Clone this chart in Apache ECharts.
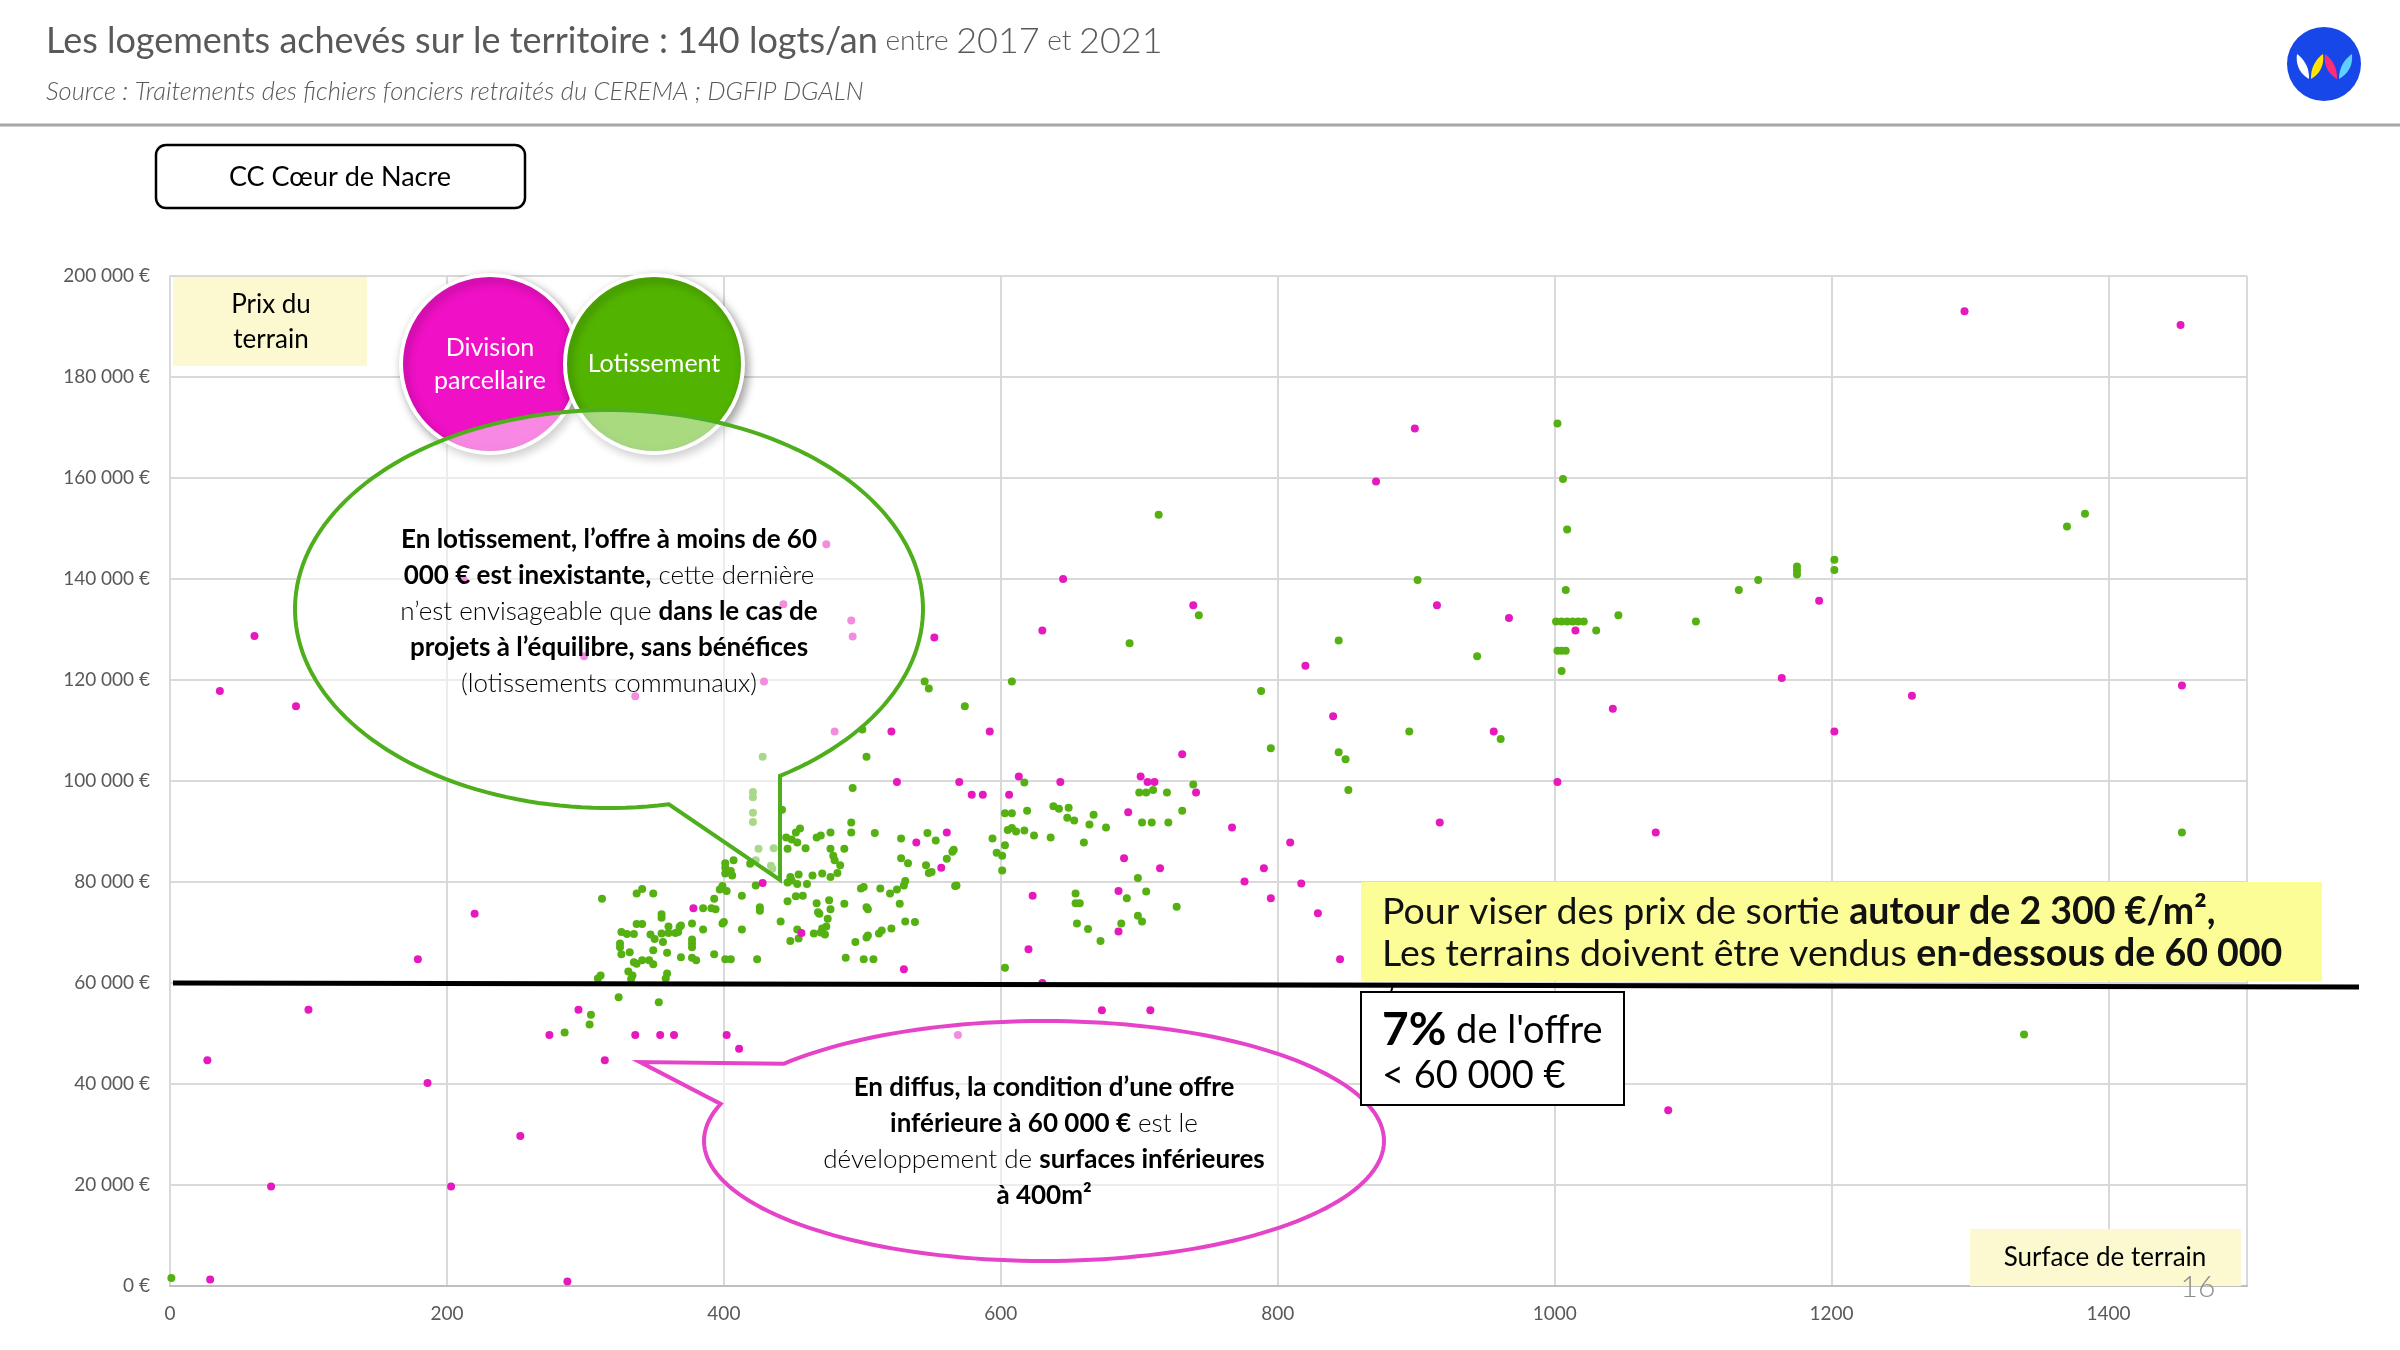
<!DOCTYPE html>
<html lang="fr">
<head>
<meta charset="UTF-8">
<title>Logements achevés - CC Cœur de Nacre</title>
<style>
    body, html {width:100%; height:100%; margin:0; background:#fff;}
    #main {width:2400px; height:1350px;}
</style>
<script src="https://cdn.jsdelivr.net/npm/echarts@6/dist/echarts.min.js"></script>
</head>
<body>
<div id="main"></div>
<script>
    // axes
    var xMax = 1500, xStep = 200;
    var yMax = 200000, yStep = 20000;
    var seuil = 60000; // prix de sortie visé

    // surface (m²), prix du terrain (€)
    var lotissement = [
        [1,1600],
        [285,50200],[303,51800],[304,53700],[324,57200],[353,56200],
        [309,60900],[311,61500],[331,62300],[334,61500],[333,60800],[359,61900],[358,60900],
        [335,64100],[341,64500],[346,64500],[349,63700],[337,63800],
        [325,67100],[325,67800],[332,66100],[326,65700],[349,66500],[359,66000],[369,65100],[377,65000],[380,64500],[393,65700],[401,64700],[405,64700],[424,64700],
        [326,70100],[330,69700],[335,69700],[347,69600],[350,68700],[355,69800],[360,69900],[365,69900],[367,70100],[368,71100],[377,68600],[377,67800],[377,67100],[356,68100],
        [312,76700],[337,77700],[341,78600],[349,77700],[355,73600],[355,72900],[337,71700],[341,71700],[360,71200],[369,71400],[377,71800],[385,70600],[385,74800],[391,74800],[394,74600],[413,70600],[399,71800],[400,72100],
        [401,83700],[401,82800],[401,81700],[406,81300],[405,82200],[407,84300],[419,83600],[423,79300],[397,78500],[402,78200],[399,79200],[393,76700],[413,77300],[426,74300],[426,75000],[441,72200],
        [446,76200],[452,77200],[457,77300],[446,79900],[453,79600],[460,79600],[448,81000],[449,80300],[454,81500],[464,81300],[471,81700],[477,81000],[482,81800],
        [467,75800],[469,73700],[468,74000],[477,74600],[476,76400],[475,72700],[474,71200],[471,70800],[470,70000],[465,69800],[473,69600],[453,70600],[448,68300],[454,68800],
        [487,75700],[503,75000],[504,74600],[499,78700],[501,79000],[513,78700],[520,77700],[525,78500],[530,79300],[531,80200],[527,75700],[512,69800],[514,70400],[521,70800],[504,69400],[503,69000],[495,68100],[531,72200],[538,72100],[488,65000],[501,64700],[508,64700],[567,79200],
        [428,104800],[421,97800],[421,96800],[421,93700],[421,91900],[425,86600],[423,84300],[436,86700],[434,83200],[435,82600],
        [545,119700],[548,118300],[574,114800],[500,110200],[503,104800],[493,98600],[442,94300],
        [492,91800],[492,89800],[455,90600],[452,89800],[445,88800],[449,88400],[453,87800],[467,88800],[470,89200],[477,89800],[459,86700],[446,86600],[477,86600],[487,86600],[479,85200],[480,84300],[484,83300],
        [509,89700],[528,88600],[547,89700],[553,88200],[565,86000],[566,86400],[561,84600],[528,84700],[533,83700],[546,83300],[550,82000],[548,81800],[568,79300],[594,88600],[597,85800],
        [608,119700],[617,99700],[638,95000],[642,94500],[649,94700],[619,94100],[603,93600],[608,93600],[648,92700],[653,92200],[667,93300],[664,91400],[676,90800],[605,90300],[608,90700],[611,90000],[617,90200],[624,89200],[636,88800],[660,87800],[603,87300],[601,85200],[601,82300],[654,77700],[654,75800],[657,75800],[655,71800],[663,70700],[672,68300],[687,71800],[691,76800],[603,63000],
        [700,97700],[705,97700],[710,98200],[720,97700],[731,94100],[702,91800],[709,91800],[721,91800],[739,99300],[699,80800],[705,78100],[727,75100],[699,73300],[702,72200],
        [743,132800],[693,127300],[714,152700],[788,117800],[795,106500],[844,105700],[849,104300],[851,98200],[844,127800],[895,109800],[961,108300],[944,124700],[901,139800],
        [1002,170800],[1006,159800],[1009,149800],[1008,137800],
        [1001,131600],[1005,131600],[1009,131600],[1013,131600],[1017,131600],[1021,131600],[1030,129800],[1046,132800],[1102,131600],[1002,125800],[1005,125800],[1008,125800],[1005,121800],
        [1133,137800],[1147,139800],[1175,140900],[1175,141700],[1175,142500],[1202,141800],[1202,143800],[1370,150400],[1383,152900],
        [1339,49800],[1453,89800]
    ];

    var divisionParcellaire = [
        [29,1300],[287,900],[73,19700],[203,19700],[253,29700],[186,40200],[27,44700],[314,44700],[100,54700],[179,64700],[220,73700],
        [274,49700],[336,49700],[354,49700],[364,49700],[402,49700],[411,47000],[569,49700],[295,54700],
        [378,74800],[428,79800],[456,69900],[530,62700],[557,82800],[539,87800],[561,89800],
        [525,99800],[570,99800],[579,97300],[587,97300],[592,109800],[521,109800],[480,109800],
        [492,131800],[493,128600],[552,128400],[630,129800],[645,140000],[474,146900],[443,135000],[429,119700],[212,139900],[299,124700],[336,116800],
        [61,128700],[36,117800],[91,114800],
        [613,100900],[643,99800],[606,97300],[701,100900],[706,99800],[711,99800],[741,97700],[692,93800],[767,90800],[809,87800],[689,84700],[715,82700],[790,82700],[776,80100],[817,79700],[623,77300],[685,78200],[795,76800],[829,73800],[685,70200],[620,66700],[845,64700],[630,60000],[673,54600],[708,54600],
        [731,105300],[739,134800],[820,122800],[840,112800],[871,159300],[899,169800],[915,134800],[967,132300],[956,109800],[917,91800],[1002,99800],[1015,129800],[1042,114300],[1073,89800],[1082,34800],
        [1164,120400],[1191,135700],[1202,109800],[1258,116900],[1296,193000],[1452,190300],[1453,118900]
    ];

    var FONT = "Lato, 'Noto Sans', sans-serif";
    var ROSE = '#e619be', VERT = '#55b012';

    function euro(v) {
        return String(v).replace(/\B(?=(\d{3})+(?!\d))/g, ' ') + ' €';
    }

    var chart = echarts.init(document.getElementById('main'));
    chart.setOption({
        animation: false,
        backgroundColor: '#fff',
        grid: {left: 170, right: 153, top: 276, bottom: 64},
        xAxis: {
            type: 'value', min: 0, max: xMax, interval: xStep,
            axisLine: {show: true, lineStyle: {color: '#bfbfbf', width: 2}},
            axisTick: {show: false},
            splitLine: {show: true, lineStyle: {color: '#d9d9d9', width: 2}},
            axisLabel: {color: '#595959', fontSize: 19, fontFamily: FONT, margin: 18, showMaxLabel: false,
                formatter: function (v) { return String(v); }}
        },
        yAxis: {
            type: 'value', min: 0, max: yMax, interval: yStep,
            axisLine: {show: true, lineStyle: {color: '#d9d9d9', width: 2}},
            axisTick: {show: false},
            splitLine: {show: true, lineStyle: {color: '#d9d9d9', width: 2}},
            axisLabel: {color: '#595959', fontSize: 19, fontFamily: FONT, margin: 20, formatter: euro}
        },
        series: [
            {name: 'Lotissement', type: 'scatter', data: lotissement, symbolSize: 8, itemStyle: {color: VERT, opacity: 1}, z: 2},
            {name: 'Division parcellaire', type: 'scatter', data: divisionParcellaire, symbolSize: 8, itemStyle: {color: ROSE, opacity: 1}, z: 3}
        ]
    });

    // bulle = ellipse + pointe
    function bulle(cx, cy, rx, ry, from, to, pointe) {
        var pts = [];
        for (var d = from; d <= to; d += 2) {
            var t = d * Math.PI / 180;
            pts.push([cx + rx * Math.cos(t), cy + ry * Math.sin(t)]);
        }
        return pts.concat(pointe);
    }

    // feuille du logo
    function feuille(p, q, b) {
        var mx = (p[0] + q[0]) / 2, my = (p[1] + q[1]) / 2;
        var dx = q[0] - p[0], dy = q[1] - p[1], len = Math.sqrt(dx * dx + dy * dy);
        var nx = -dy / len * b, ny = dx / len * b;
        var pts = [], i, t;
        for (i = 0; i <= 12; i++) {
            t = i / 12;
            pts.push([(1-t)*(1-t)*p[0] + 2*(1-t)*t*(mx+nx) + t*t*q[0], (1-t)*(1-t)*p[1] + 2*(1-t)*t*(my+ny) + t*t*q[1]]);
        }
        for (i = 1; i < 12; i++) {
            t = i / 12;
            pts.push([(1-t)*(1-t)*q[0] + 2*(1-t)*t*(mx-nx*0.8) + t*t*p[0], (1-t)*(1-t)*q[1] + 2*(1-t)*t*(my-ny*0.8) + t*t*p[1]]);
        }
        return pts;
    }

    var p60 = chart.convertToPixel({gridIndex: 0}, [0, seuil]);

    var txtB = {fontFamily: FONT, fontSize: 26, fontWeight: 700, fill: '#000', lineHeight: 36};
    var txtN = {fontFamily: FONT, fontSize: 26, fontWeight: 300, fill: '#000', lineHeight: 36};

    var g = [
        // en-tête
        {type: 'text', x: 46, y: 41, z: 50, style: {
            text: '{a|Les logements achevés sur le territoire : 140 logts/an}{b| entre }{c|2017}{b| et }{c|2021}',
            verticalAlign: 'middle', fontFamily: FONT,
            rich: {
                a: {fontFamily: FONT, fontSize: 36, fontWeight: 400, fill: '#595959'},
                b: {fontFamily: FONT, fontSize: 28, fontWeight: 300, fill: '#595959'},
                c: {fontFamily: FONT, fontSize: 36, fontWeight: 300, fill: '#595959'}
            }
        }},
        {type: 'text', x: 46, y: 92, z: 50, style: {
            text: 'Source : Traitements des fichiers fonciers retraités du CEREMA ; DGFIP DGALN',
            verticalAlign: 'middle', fontFamily: FONT, fontSize: 25.5, fontStyle: 'italic', fontWeight: 300, fill: '#595959'
        }},
        {type: 'line', z: 50, shape: {x1: 0, y1: 125, x2: 2400, y2: 125}, style: {stroke: '#a6a6a6', lineWidth: 3}},
        // logo
        {type: 'circle', z: 50, shape: {cx: 2324, cy: 64, r: 37}, style: {fill: '#1747e8'}},
        {type: 'polygon', z: 51, shape: {points: feuille([2297, 54], [2309, 79], 9)}, style: {fill: '#ffffff'}},
        {type: 'polygon', z: 51, shape: {points: feuille([2311, 79], [2323, 54], 9)}, style: {fill: '#ffe500'}},
        {type: 'polygon', z: 51, shape: {points: feuille([2325, 54], [2337, 79], 9)}, style: {fill: '#ff2b7b'}},
        {type: 'polygon', z: 51, shape: {points: feuille([2339, 79], [2352, 54], 9)}, style: {fill: '#5fd0ff'}},

        // territoire
        {type: 'rect', z: 50, shape: {x: 156, y: 145, width: 369, height: 63, r: 10}, style: {fill: '#fff', stroke: '#000', lineWidth: 2.5}},
        {type: 'text', x: 340, y: 177, z: 51, style: {text: 'CC Cœur de Nacre', align: 'center', verticalAlign: 'middle', fontFamily: FONT, fontSize: 27, fill: '#000'}},

        // étiquettes d'axes
        {type: 'rect', z: 50, shape: {x: 173, y: 277, width: 194, height: 89}, style: {fill: '#fcf8d0'}},
        {type: 'text', x: 271, y: 322, z: 51, style: {text: 'Prix du\nterrain', align: 'center', verticalAlign: 'middle', fontFamily: FONT, fontSize: 26, lineHeight: 35, fill: '#000'}},
        {type: 'rect', z: 50, shape: {x: 1970, y: 1229, width: 271, height: 57}, style: {fill: '#fcf8d0'}},
        {type: 'text', x: 2105, y: 1258, z: 51, style: {text: 'Surface de terrain', align: 'center', verticalAlign: 'middle', fontFamily: FONT, fontSize: 26, fill: '#000'}},
        {type: 'text', x: 2198, y: 1287, z: 52, style: {text: '16', align: 'center', verticalAlign: 'middle', fontFamily: FONT, fontSize: 30, fontWeight: 300, fill: '#8c8c8c'}},

        // légende en cercles
        {type: 'circle', z: 60, shape: {cx: 490, cy: 364, r: 89}, style: {fill: '#f010c6', stroke: '#fff', lineWidth: 4, shadowBlur: 10, shadowColor: 'rgba(0,0,0,0.35)', shadowOffsetX: 3, shadowOffsetY: 4}},
        {type: 'circle', z: 61, shape: {cx: 654, cy: 364, r: 89}, style: {fill: '#52b400', stroke: '#fff', lineWidth: 4, shadowBlur: 10, shadowColor: 'rgba(0,0,0,0.35)', shadowOffsetX: 3, shadowOffsetY: 4}},
        {type: 'text', x: 490, y: 364, z: 62, style: {text: 'Division\nparcellaire', align: 'center', verticalAlign: 'middle', fontFamily: FONT, fontSize: 25, lineHeight: 33, fill: '#fff'}},
        {type: 'text', x: 654, y: 364, z: 62, style: {text: 'Lotissement', align: 'center', verticalAlign: 'middle', fontFamily: FONT, fontSize: 25, fill: '#fff'}},

        // bulle lotissement
        {type: 'polygon', z: 70, shape: {points: bulle(609, 609, 314, 199, 79, 417, [[780, 880]])},
            style: {fill: 'rgba(255,255,255,0.5)', stroke: '#4fae1c', lineWidth: 4}},
        {type: 'text', x: 609, y: 612, z: 71, style: {
            text: '{b|En lotissement, l’offre à moins de 60}\n{b|000 € est inexistante,}{n| cette dernière}\n{n|n’est envisageable que }{b|dans le cas de}\n{b|projets à l’équilibre, sans bénéfices}\n{n|(lotissements communaux)}',
            align: 'center', verticalAlign: 'middle', fontFamily: FONT, fontSize: 26, lineHeight: 36,
            rich: {b: txtB, n: txtN}
        }},

        // bulle diffus
        {type: 'polygon', z: 70, shape: {points: bulle(1044, 1141, 340, 120, 220, 558, [[640, 1062]])},
            style: {fill: 'rgba(255,255,255,0.5)', stroke: '#e544c9', lineWidth: 4}},
        {type: 'text', x: 1044, y: 1142, z: 71, style: {
            text: '{b|En diffus, la condition d’une offre}\n{b|inférieure à 60 000 €}{n| est le}\n{n|développement de }{b|surfaces inférieures}\n{b|à 400m²}',
            align: 'center', verticalAlign: 'middle', fontFamily: FONT, fontSize: 26, lineHeight: 36,
            rich: {b: txtB, n: txtN}
        }},

        // seuil 60 000 €
        {type: 'rect', z: 72, shape: {x: 1361, y: 882, width: 961, height: 99}, style: {fill: '#fdfd98'}},
        {type: 'text', x: 1382, y: 933, z: 73, style: {
            text: '{n|Pour viser des prix de sortie }{b|autour de 2 300 €/m²,}\n{n|Les terrains doivent être vendus }{b|en-dessous de 60 000}',
            verticalAlign: 'middle', fontFamily: FONT, fontSize: 37.5, lineHeight: 42,
            rich: {
                n: {fontFamily: FONT, fontSize: 37.5, fontWeight: 400, fill: '#111', lineHeight: 42},
                b: {fontFamily: FONT, fontSize: 37.5, fontWeight: 700, fill: '#111', lineHeight: 42}
            }
        }},
        {type: 'line', z: 74, shape: {x1: p60[0] + 3, y1: p60[1], x2: 2359, y2: p60[1] + 4}, style: {stroke: '#000', lineWidth: 5}},
        {type: 'line', z: 74, shape: {x1: 1393, y1: p60[1] + 2, x2: 1391, y2: 992}, style: {stroke: '#000', lineWidth: 2}},
        {type: 'rect', z: 74, shape: {x: 1361, y: 992, width: 263, height: 113}, style: {fill: '#fff', stroke: '#000', lineWidth: 2}},
        {type: 'text', x: 1382, y: 1053, z: 75, style: {
            text: '{big|7%}{n| de l\'offre}\n{n|< 60 000 €}',
            verticalAlign: 'middle', fontFamily: FONT, fontSize: 37, lineHeight: 45,
            rich: {
                big: {fontFamily: FONT, fontSize: 46, fontWeight: 700, fill: '#000', lineHeight: 45},
                n: {fontFamily: FONT, fontSize: 38, fontWeight: 400, fill: '#000', lineHeight: 45}
            }
        }}
    ];

    chart.setOption({graphic: g});
</script>
</body>
</html>
